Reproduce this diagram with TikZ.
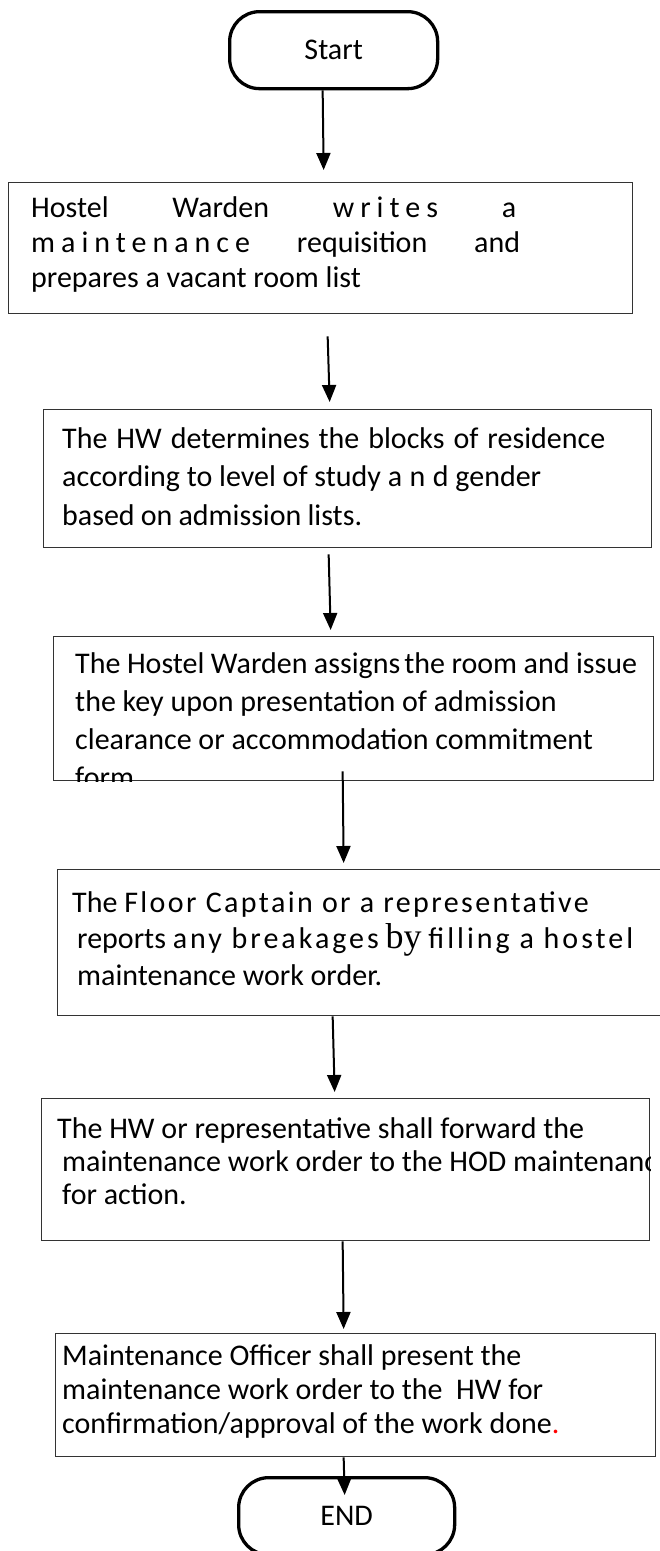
\documentclass[tikz,border=0pt]{standalone}
\usepackage{fontspec}
\setmainfont{Carlito}
\newfontfamily\byfont{Liberation Serif}
\usetikzlibrary{arrows.meta}
\newcommand{\lspaced}[2][20]{{\addfontfeature{LetterSpace=#1}#2}}
\tikzset{
    procbox/.style = {rectangle, draw=black!80, line width=1.3pt, anchor=north west, inner sep=0pt},
    termbox/.style = {rectangle, draw=black, line width=3.3pt, rounded corners=30pt, anchor=north west, inner sep=0pt, minimum height=77pt, font=\fontsize{30}{36}\selectfont},
    flowtext/.style = {anchor=north west, inner sep=0pt, align=left, font=\fontsize{30}{#1}\selectfont},
    flowarrow/.style = {->, line width=2pt}
}

\begin{document}
\begin{tikzpicture}
    [x=1pt, y=-1pt, >={Triangle[width=14pt,length=17pt]}]

    \useasboundingbox (0,0) rectangle (659,1551);

    % terminals
    \node [termbox, minimum width=208pt] (start) at (228,10) {Start};
    \node [termbox, minimum width=216pt] (finish) at (237,1476) {END};

    % process boxes
    \node [procbox, minimum width=624pt, minimum height=131pt] (hwreq) at (8,182) {};
    \node [procbox, minimum width=608pt, minimum height=138pt] (blocks) at (43,409) {};
    \node [procbox, minimum width=600pt, minimum height=144pt] (assign) at (53,636) {};
    \node [procbox, minimum width=700pt, minimum height=146pt] (report) at (57,869) {};
    \node [procbox, minimum width=608pt, minimum height=142pt] (forward) at (41,1098) {};
    \node [procbox, minimum width=600pt, minimum height=123pt] (confirm) at (55,1333) {};

    % box texts
    \node [flowtext=35] (hwreqtext) at (31,192.5)
        {\strut\makebox[485pt][s]{Hostel Warden \lspaced{writes} a}\\
         \strut\makebox[489pt][s]{\lspaced{maintenance} requisition and}\\
         \strut prepares a vacant room list};
    \node [flowtext=38.5] (blockstext) at (62,421)
        {\strut\makebox[543pt][s]{The HW determines the blocks of residence}\\
         \strut according to level of study \lspaced[25]{and} gender\\
         \strut\makebox[300pt][s]{based on admission lists.}};
    \begin{scope}
        \clip (assign.south west) rectangle (assign.north east);
        \node [flowtext=38] (assigntext) at (75,646.4)
            {\strut\makebox[562pt][s]{The Hostel Warden assigns\hspace{4pt}the room and issue}\\
             \strut the key upon presentation of admission\\
             \strut clearance or accommodation commitment\\
             \strut form};
    \end{scope}
    \node [flowtext=36.5] (reporttext) at (72,886.5)
        {\strut The \lspaced[8]{Floor Captain or a representative}\\
         \strut\hspace*{5pt}reports \lspaced[10]{any breakages} {\byfont\fontsize{36}{36}\selectfont by} \lspaced[10]{filling a hostel}\\
         \strut\hspace*{5pt}maintenance work order.};
    \begin{scope}
        \clip (forward.south west) rectangle (forward.north east);
        \node [flowtext=33] (forwardtext) at (57,1115)
            {\strut The HW or representative shall forward the\\
             \strut\hspace*{5pt}maintenance work order to the HOD maintenance\\
             \strut\hspace*{5pt}for action.};
    \end{scope}
    \node [flowtext=34] (confirmtext) at (62,1341)
        {\strut Maintenance Officer shall present the\\
         \strut maintenance work order to the\ \ HW for\\
         \strut confirmation/approval of the work done\textcolor{red}{.}};

    % connectors
    \draw [flowarrow] ([xshift=-11pt]start.south) -- ([xshift=3pt,yshift=12pt]hwreq.north);
    \draw [flowarrow] ([xshift=7pt,yshift=-22pt]hwreq.south) -- ([xshift=-18pt,yshift=7pt]blocks.north);
    \draw [flowarrow] ([xshift=-19pt,yshift=-6pt]blocks.south) -- ([xshift=-23pt,yshift=6pt]assign.north);
    \draw [flowarrow] ([xshift=-11pt,yshift=10pt]assign.south) -- ([xshift=-64pt,yshift=6pt]report.north);
    \draw [flowarrow] ([xshift=-75pt]report.south) -- ([xshift=-11pt,yshift=6pt]forward.north);
    \draw [flowarrow] ([xshift=-3pt]forward.south) -- ([xshift=-12pt,yshift=4pt]confirm.north);
    \draw [flowarrow] ([xshift=-12pt]confirm.south) -- ([xshift=-2pt,yshift=-19pt]finish.north);
\end{tikzpicture}
\end{document}
